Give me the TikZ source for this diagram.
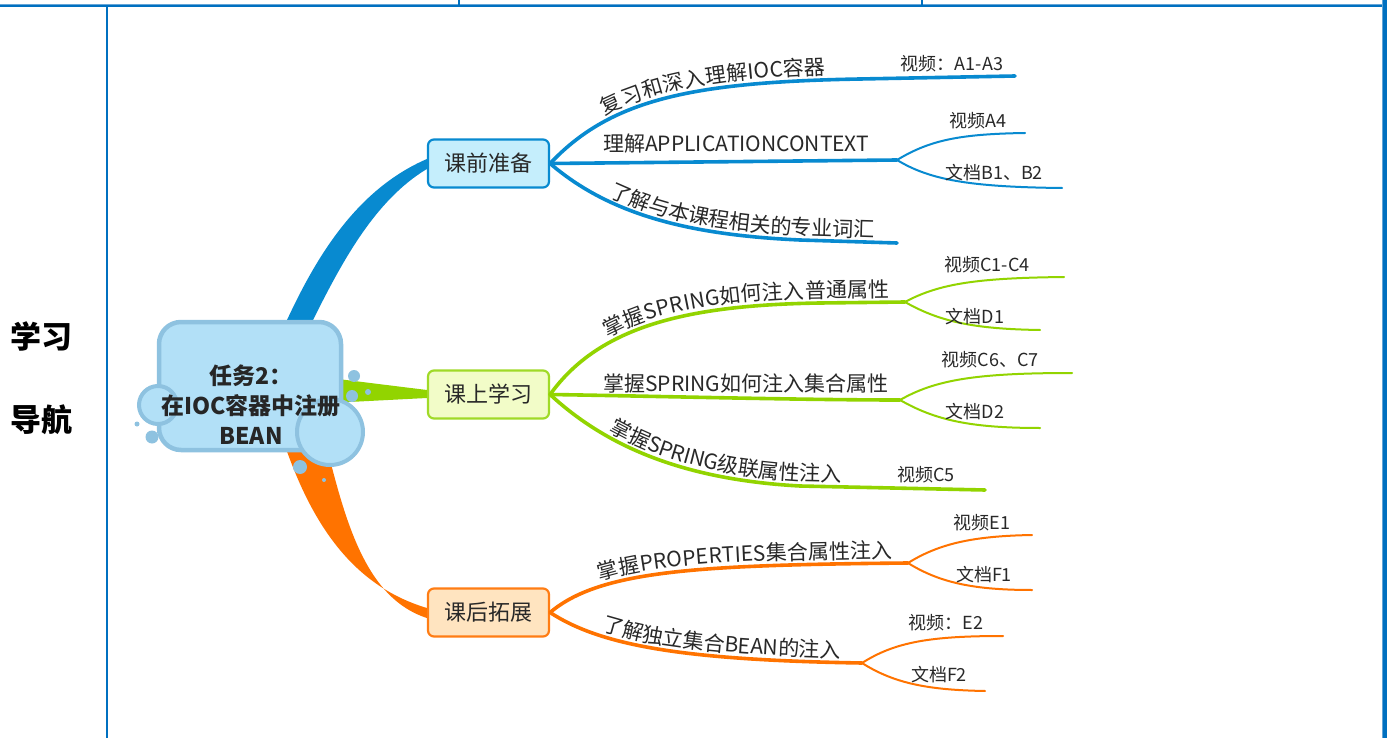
\documentclass[tikz,border=0pt]{standalone}
\usepackage{fontspec}
\setmainfont{Noto Sans CJK SC}
\usetikzlibrary{decorations.text}
\definecolor{frameblue}{RGB}{0,112,192}
\definecolor{framelight}{RGB}{100,165,215}
\definecolor{bblue}{RGB}{8,138,208}
\definecolor{bboxfill}{RGB}{197,238,252}
\definecolor{gline}{RGB}{146,212,0}
\definecolor{gboxfill}{RGB}{242,252,200}
\definecolor{gboxdraw}{RGB}{160,218,40}
\definecolor{oline}{RGB}{255,115,0}
\definecolor{oboxfill}{RGB}{255,228,192}
\definecolor{oboxdraw}{RGB}{255,125,20}
\definecolor{cfill}{RGB}{178,224,247}
\definecolor{cborder}{RGB}{142,194,224}
\definecolor{txt}{RGB}{40,40,40}
\newcommand\mmsubfont{\fontsize{21}{21}\selectfont}
\tikzset{
  l1box/.style={draw, rounded corners=6pt, line width=2.2pt, minimum width=121pt, minimum height=48pt, inner sep=0pt, font=\fontsize{22}{22}\selectfont, text=txt},
  sublbl/.style={font=\mmsubfont, text=txt, inner sep=0pt},
  leaflbl/.style={font=\fontsize{18}{18}\selectfont, text=txt, inner sep=0pt},
  sidelbl/.style={font=\bfseries\fontsize{31}{31}\selectfont, text=black, inner sep=0pt},
  ctext/.style={font=\bfseries\fontsize{23}{30}\selectfont, text=black!85, align=center, inner sep=0pt},
  br/.style={line width=3.6pt, line cap=round},
  leaf/.style={line width=2pt, line cap=round},
  alongtext/.style n args={3}{decorate, decoration={text along path, text color=txt, text={|\mmsubfont|#1}, raise=#2, text align={left indent=#3}}},
}
\begin{document}
\begin{tikzpicture}[x=1pt,y=-1pt]
\useasboundingbox (0,0) rectangle (1387,738);
\fill[white] (0,0) rectangle (1387,738);
% frame
\draw[framelight, line width=0.8pt] (0,4.4) -- (1382,4.4);
\draw[frameblue, line width=1.8pt] (0,5.9) -- (1382,5.9);
\draw[frameblue, line width=1.4pt] (459,0) -- (459,5);
\draw[frameblue, line width=1.4pt] (922,0) -- (922,5);
\draw[frameblue, line width=1.6pt] (107,6) -- (107,738);
\fill[framelight] (1381.7,0) rectangle (1383,738);
\fill[frameblue] (1383,0) rectangle (1387,738);
% side label
\node[sidelbl] (xx) at (41,336) {学习};
\node[sidelbl] (dh) at (41,420) {导航};

% level-1 boxes
\node[l1box, draw=bblue, fill=bboxfill] (pre) at (488.5,163.5) {课前准备};
\node[l1box, draw=gboxdraw, fill=gboxfill] (learn) at (488.5,394.5) {课上学习};
\node[l1box, draw=oboxdraw, fill=oboxfill] (post) at (488.5,612.5) {课后拓展};

% thick tapered main branches
\fill[bblue] (287,340) -- (287,320) .. controls (315,260) and (355,190) .. (pre.west |- 0,159) -- (pre.west |- 0,169) .. controls (375,200) and (342,262) .. (313,320) -- (313,340) -- cycle;
\fill[gline] (330,378) -- (learn.west |- 0,390) -- (learn.west |- 0,398) -- (330,403) -- cycle;
\fill[oline] (283,440) .. controls (310,520) and (350,585) .. (post.west |- 0,608) -- (post.west |- 0,618) .. controls (365,598) and (345,520) .. (325,440) -- cycle;

% central cloud
\filldraw[draw=cborder, fill=cfill, line width=4.5pt, rounded corners=22pt] (159,322) rectangle (341,450);
\filldraw[draw=cborder, fill=cfill, line width=4pt] (158,405) circle (19pt);
\filldraw[draw=cborder, fill=cfill, line width=4pt] (330,432) circle (33pt);
\fill[cborder] (354,376) circle (6pt);
\fill[cborder] (352,396) circle (6pt);
\fill[cborder] (368,392) circle (3pt);
\fill[cborder] (137,424) circle (2.5pt);
\fill[cborder] (152,437) circle (6.5pt);
\fill[cborder] (300,467) circle (7pt);
\fill[cborder] (324,480) circle (2pt);
\node[ctext] (task) at (251,405) {任务2：\\在IOC容器中注册\\BEAN};

% ---------- blue group ----------
\coordinate (b1e) at (1015,76);
\coordinate (b2f) at (897,160);
\coordinate (b2u) at (1025,133);
\coordinate (b2d) at (1062,188);
\coordinate (b3e) at (897,243);
\draw[br, bblue] (pre.east) .. controls (610,100) and (690,82) .. (860,79) -- (b1e);
\path[alongtext={复习和深入理解IOC容器}{5pt}{72pt}] (pre.east) .. controls (610,100) and (690,82) .. (860,79) -- (b1e);
\node[leaflbl] (la13) at (952,64) {视频：A1-A3};

\draw[br, bblue] (pre.east) -- (b2f);
\draw[leaf, bblue] (b2f) .. controls (930,140) and (960,134) .. (b2u);
\draw[leaf, bblue] (b2f) .. controls (930,180) and (970,187) .. (b2d);
\node[sublbl, anchor=base west] (appctx) at (603,152) {理解APPLICATIONCONTEXT};
\node[leaflbl] (la4) at (978,121) {视频A4};
\node[leaflbl] (lb12) at (994,173) {文档B1、B2};

\draw[br, bblue] (pre.east) .. controls (610,215) and (690,235) .. (800,240) -- (b3e);
\path[alongtext={了解与本课程相关的专业词汇}{5pt}{68pt}] (pre.east) .. controls (610,215) and (690,235) .. (800,240) -- (b3e);

% ---------- green group ----------
\coordinate (g1f) at (905,302);
\coordinate (g1u) at (1064,277);
\coordinate (g1d) at (1040,330);
\coordinate (g2f) at (900,400);
\coordinate (g2u) at (1072,373);
\coordinate (g2d) at (1040,428);
\coordinate (g3e) at (985,490);
\draw[br, gline] (learn.east) .. controls (600,325) and (690,305) .. (820,303) -- (g1f);
\path[alongtext={掌握SPRING如何注入普通属性}{5pt}{80pt}] (learn.east) .. controls (600,325) and (690,305) .. (820,303) -- (g1f);
\draw[leaf, gline] (g1f) .. controls (940,283) and (980,278) .. (g1u);
\draw[leaf, gline] (g1f) .. controls (940,322) and (975,329) .. (g1d);
\node[leaflbl] (lc14) at (987,265) {视频C1-C4};
\node[leaflbl] (ld1) at (975,317) {文档D1};

\draw[br, gline] (learn.east) .. controls (650,396) and (800,400) .. (g2f);
\node[sublbl, anchor=base west] (setp) at (603,391) {掌握SPRING如何注入集合属性};
\draw[leaf, gline] (g2f) .. controls (935,380) and (975,373) .. (g2u);
\draw[leaf, gline] (g2f) .. controls (935,420) and (970,428) .. (g2d);
\node[leaflbl] (lc67) at (990,360) {视频C6、C7};
\node[leaflbl] (ld2) at (975,412) {文档D2};

\draw[br, gline] (learn.east) .. controls (610,450) and (690,480) .. (800,486) -- (g3e);
\path[alongtext={掌握SPRING级联属性注入}{5pt}{70pt}] (learn.east) .. controls (610,450) and (690,480) .. (800,486) -- (g3e);
\node[leaflbl] (lc5) at (926,475) {视频C5};

% ---------- orange group ----------
\coordinate (o1f) at (908,563);
\coordinate (o1u) at (1032,535);
\coordinate (o1d) at (1032,590);
\coordinate (o2f) at (862,663);
\coordinate (o2u) at (1003,636);
\coordinate (o2d) at (985,691);
\draw[br, oline] (post.east) .. controls (600,570) and (700,565) .. (o1f);
\path[alongtext={掌握PROPERTIES集合属性注入}{5pt}{58pt}] (post.east) .. controls (600,570) and (700,565) .. (o1f);
\draw[leaf, oline] (o1f) .. controls (940,543) and (975,536) .. (o1u);
\draw[leaf, oline] (o1f) .. controls (940,583) and (975,590) .. (o1d);
\node[leaflbl] (le1) at (982,523) {视频E1};
\node[leaflbl] (lf1) at (984,575) {文档F1};

\draw[br, oline] (post.east) .. controls (600,645) and (680,660) .. (o2f);
\path[alongtext={了解独立集合BEAN的注入}{5pt}{55pt}] (post.east) .. controls (600,645) and (680,660) .. (o2f);
\draw[leaf, oline] (o2f) .. controls (895,642) and (930,636) .. (o2u);
\draw[leaf, oline] (o2f) .. controls (895,684) and (930,690) .. (o2d);
\node[leaflbl] (le2) at (946,623) {视频：E2};
\node[leaflbl] (lf2) at (939,675) {文档F2};
\end{tikzpicture}
\end{document}
